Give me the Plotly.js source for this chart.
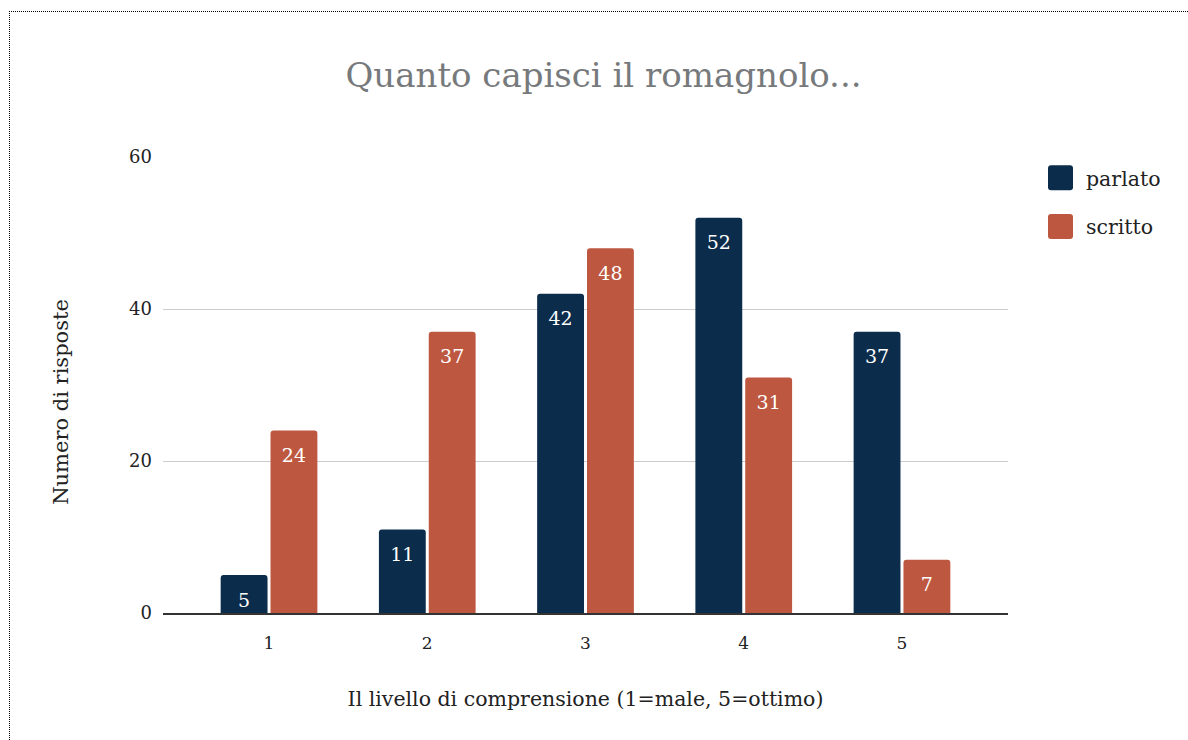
<!DOCTYPE html>
<html>
<head>
<meta charset="utf-8">
<script src="https://cdn.plot.ly/plotly-3.0.1.min.js"></script>
<style>
  html, body { margin: 0; padding: 0; background: #fff; }
  #wrap { position: relative; width: 1188px; height: 740px; overflow: hidden; }
  #frame { position: absolute; left: 9px; top: 11px; width: 1200px; height: 800px;
           border-top: 1px dotted #000; border-left: 1px dotted #000; pointer-events: none; z-index: 5; }
  #chart { position: absolute; left: 0; top: 0; width: 1188px; height: 740px; }
</style>
</head>
<body>
<div id="wrap">
  <div id="chart"></div>
  <div id="frame"></div>
</div>
<script>
const categories = ['1', '2', '3', '4', '5'];
const parlato = [5, 11, 42, 52, 37];
const scritto = [24, 37, 48, 31, 7];
const seriesNames = ['parlato', 'scritto'];
const titleText = 'Quanto capisci il romagnolo...';
const xTitle = 'Il livello di comprensione (1=male, 5=ottimo)';
const yTitle = 'Numero di risposte';
const yTicks = [0, 20, 40, 60];

const SERIF = '"DejaVu Serif", "Liberation Serif", serif';
const colors = ['#0b2c4a', '#bd5740'];

function barTrace(name, values, color, group) {
  return {
    type: 'bar', name: name, x: categories, y: values,
    legendgroup: group,
    marker: { color: color, cornerradius: 3, line: { width: 0 } },
    text: values.map(String),
    texttemplate: '<span style="font-size:4px">\u00a0</span><br>%{text}',
    textposition: 'inside', insidetextanchor: 'end', textangle: 0,
    constraintext: 'none',
    textfont: { family: SERIF, size: 19, color: '#ffffff' },
    hoverinfo: 'skip'
  };
}

const data = [
  barTrace(seriesNames[0], parlato, colors[0], 'a'),
  barTrace(seriesNames[1], scritto, colors[1], 'b')
];

const layout = {
  width: 1188, height: 740,
  margin: { l: 163, r: 180, t: 157, b: 127 },
  paper_bgcolor: '#ffffff', plot_bgcolor: '#ffffff',
  font: { family: SERIF, color: '#222' },
  title: {
    text: titleText, x: 0.508, xref: 'container', xanchor: 'center',
    y: 0.899, yref: 'container', yanchor: 'middle',
    font: { family: SERIF, size: 34, color: '#777a7c' }
  },
  barmode: 'group', bargap: 0.37, bargroupgap: 0.06,
  xaxis: {
    type: 'category', range: [-0.67, 4.67],
    showgrid: false, zeroline: false,
    showline: true, linecolor: '#333', linewidth: 1.5,
    ticks: '', ticklabelstandoff: 14,
    tickfont: { family: SERIF, size: 17, color: '#222' },
    title: { text: xTitle, font: { family: SERIF, size: 20.5, color: '#222' }, standoff: 39 }
  },
  yaxis: {
    range: [0, 60], tickvals: yTicks, ticktext: yTicks.map(String),
    showgrid: true, gridcolor: '#cccccc', gridwidth: 1,
    zeroline: false, showline: false, ticks: '', ticklabelstandoff: 10,
    tickfont: { family: SERIF, size: 18, color: '#222' },
    title: { text: yTitle, font: { family: SERIF, size: 21, color: '#222' }, standoff: 54 }
  },
  showlegend: true,
  legend: {
    x: 1046 / 1188, xref: 'container', xanchor: 'left',
    y: 1 - 158 / 740, yref: 'container', yanchor: 'top',
    traceorder: 'grouped', tracegroupgap: 19,
    font: { family: SERIF, size: 20.5, color: '#222' },
    bgcolor: 'rgba(0,0,0,0)', borderwidth: 0
  }
};

Plotly.newPlot('chart', data, layout, { staticPlot: true, displayModeBar: false }).then(function (gd) {
  // enlarge the legend swatches to match the reference's big rounded squares
  gd.querySelectorAll('.legend .legendpoints path').forEach(function (p) {
    p.setAttribute('d', 'M-15,-12.5H4Q7,-12.5 7,-9.5V9.5Q7,12.5 4,12.5H-15Q-18,12.5 -18,9.5V-9.5Q-18,-12.5 -15,-12.5Z');
  });
  // the reference's y-axis title sits a little below the plot's vertical centre
  const yt = gd.querySelector('.ytitle');
  if (yt) {
    const t = yt.getAttribute('transform') || '';
    yt.setAttribute('transform', 'translate(0,17) ' + t);
  }
});
</script>
</body>
</html>
